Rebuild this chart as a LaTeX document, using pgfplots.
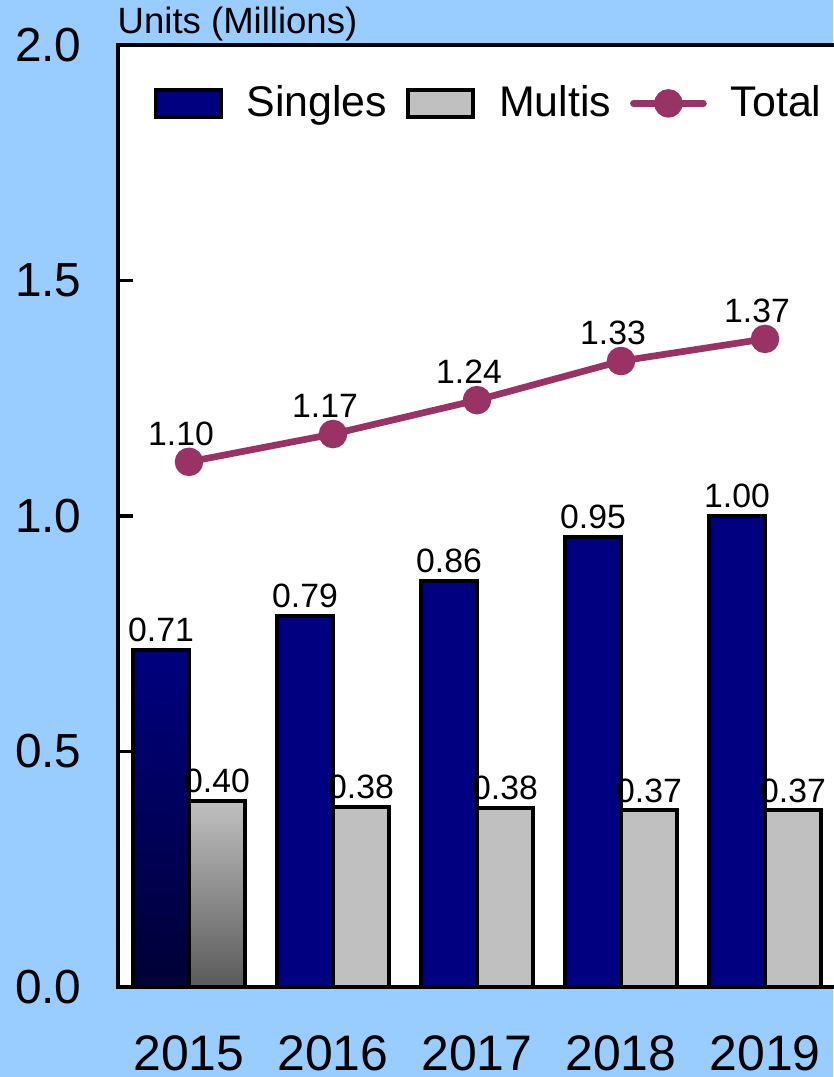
\documentclass[border=0pt]{standalone}
\usepackage{fontspec}
\setmainfont{Liberation Sans}
\usepackage{pgfplots}
\pgfplotsset{compat=1.18}
\definecolor{bg}{HTML}{99CCFF}
\definecolor{single}{HTML}{000080}
\definecolor{singledark}{HTML}{000035}
\definecolor{multi}{HTML}{C0C0C0}
\definecolor{multidark}{HTML}{5A5A5A}
\definecolor{total}{HTML}{993366}
\begin{document}
\begin{tikzpicture}
\fill[bg] (0,0) rectangle (8.33,10.77);
\begin{axis}[
  at={(1.18cm,0.90cm)}, anchor=south west,
  scale only axis, width=7.18cm, height=9.42cm,
  xmin=-0.493, xmax=4.493, ymin=0, ymax=2,
  ytick={0,0.5,1,1.5,2}, ytick pos=left,
  y tick label style={/pgf/number format/fixed, /pgf/number format/fixed zerofill, /pgf/number format/precision=1},
  yticklabel style={anchor=east, xshift=-0.24cm, font=\fontsize{13.6}{13.6}\selectfont},
  xtick={0,1,2,3,4}, xticklabels={2015,2016,2017,2018,2019},
  xticklabel style={anchor=north, inner sep=0pt, yshift=-0.48cm, font=\fontsize{14.2}{14.2}\selectfont},
  major x tick style={draw=none},
  tick align=inside, major tick length=0.15cm,
  axis line style={line width=1.1pt},
  every tick/.style={line width=1.1pt, black},
  axis background/.style={fill=white},
  /pgf/number format/assume math mode=true,
  legend columns=3,
  legend style={at={(0.034,0.938)}, anchor=west, draw=none, fill=none,
    font=\fontsize{12.2}{12.2}\selectfont,
    /tikz/every odd column/.style={column sep=0.17cm},
    /tikz/every even column/.style={column sep=0.12cm},
    /tikz/column 4/.style={column sep=0.03cm},
    /tikz/column 5/.style={column sep=0.12cm}},
  nodes near coords style={font=\fontsize{9.6}{9.6}\selectfont, inner sep=0pt, anchor=south, yshift=0.06cm, black},
]
% 2015 gradient bars
\addplot[forget plot, ybar, bar width=0.56cm, bar shift=-0.28cm, draw=black, line width=1.1pt,
  top color=single, bottom color=singledark,
  nodes near coords, point meta=explicit symbolic,
  nodes near coords style={xshift=-0.28cm}]
  coordinates {(0,0.715)[0.71]};
\addplot[forget plot, ybar, bar width=0.56cm, bar shift=0.28cm, draw=black, line width=1.1pt,
  top color=multi, bottom color=multidark,
  nodes near coords, point meta=explicit symbolic,
  nodes near coords style={xshift=0.28cm}]
  coordinates {(0,0.395)[0.40]};
% Singles
\addplot[ybar, bar width=0.56cm, bar shift=-0.28cm, draw=black, fill=single, line width=1.1pt,
  nodes near coords, point meta=explicit symbolic,
  nodes near coords style={xshift=-0.28cm},
  legend image code/.code={\draw[draw=black, fill=single, line width=1.1pt] (0cm,-0.135cm) rectangle (0.65cm,0.135cm);}]
  coordinates {(1,0.788)[0.79] (2,0.862)[0.86] (3,0.955)[0.95] (4,1.0)[1.00]};
\addlegendentry{Singles}
% Multis
\addplot[ybar, bar width=0.56cm, bar shift=0.28cm, draw=black, fill=multi, line width=1.1pt,
  nodes near coords, point meta=explicit symbolic,
  nodes near coords style={xshift=0.28cm},
  legend image code/.code={\draw[draw=black, fill=multi, line width=1.1pt] (0cm,-0.135cm) rectangle (0.65cm,0.135cm);}]
  coordinates {(1,0.383)[0.38] (2,0.380)[0.38] (3,0.375)[0.37] (4,0.375)[0.37]};
\addlegendentry{Multis}
% Total
\addplot[total, line width=1.9pt, mark=*, mark size=3.1pt, mark options={fill=total, draw=total},
  nodes near coords, point meta=explicit symbolic,
  nodes near coords style={yshift=0.07cm, xshift=-0.08cm},
  legend image code/.code={\draw[total, line width=1.9pt, line cap=round] (0cm,0cm) -- (0.70cm,0cm);
     \fill[total] (0.35cm,0cm) circle (3.1pt);}]
  coordinates {(0,1.115)[1.10] (1,1.174)[1.17] (2,1.246)[1.24] (3,1.329)[1.33] (4,1.376)[1.37]};
\addlegendentry{Total}
\end{axis}
\node[anchor=south west, inner sep=0pt, font=\fontsize{10.4}{10.4}\selectfont] at (1.17,10.35) {Units (Millions)};
\pgfresetboundingbox
\useasboundingbox (0,0) rectangle (8.33,10.77);
\end{tikzpicture}
\end{document}
